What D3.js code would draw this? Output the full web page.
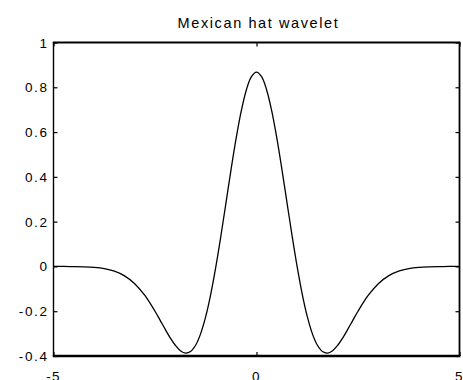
<!DOCTYPE html>
<html>
<head>
<meta charset="utf-8">
<script src="https://cdn.jsdelivr.net/npm/d3@7"></script>
<style>
  html, body { margin: 0; padding: 0; background: #fff; }
  svg { display: block; }
  text { font-family: "Liberation Sans", Arial, Helvetica, sans-serif; fill: #000; }
</style>
</head>
<body>
<svg id="chart" width="463" height="380"></svg>
<script>
// Sample points of the Mexican hat wavelet (denser near the centre)
const tValues = [-5, -4.75, -4.5, -4.25, -4, -3.75, -3.5, -3.25, -3, -2.75, -2.5, -2.375, -2.25, -2.125, -2, -1.875, -1.75, -1.625,
  -1.5, -1.375, -1.25, -1.125, -1, -0.875, -0.75, -0.625, -0.5, -0.375, -0.25, -0.125,
  0, 0.125, 0.25, 0.375, 0.5, 0.625, 0.75, 0.875, 1, 1.125, 1.25, 1.375, 1.5,
  1.625, 1.75, 1.875, 2, 2.125, 2.25, 2.375, 2.5, 2.75, 3, 3.25, 3.5, 3.75, 4, 4.25, 4.5, 4.75, 5];
const psiValues = [-0.0001, -0.0002, -0.0007, -0.0018, -0.0044, -0.0100, -0.0213, -0.0422, -0.0771, -0.1297, -0.2001, -0.2398, -0.2803, -0.3189, -0.3521, -0.3762, -0.3869, -0.3800,
  -0.3520, -0.3001, -0.2234, -0.1224, 0, 0.1386, 0.2864, 0.4347, 0.5740, 0.6947, 0.7881, 0.8471,
  0.8673, 0.8471, 0.7881, 0.6947, 0.5740, 0.4347, 0.2864, 0.1386, 0, -0.1224, -0.2234, -0.3001, -0.3520,
  -0.3800, -0.3869, -0.3762, -0.3521, -0.3189, -0.2803, -0.2398, -0.2001, -0.1297, -0.0771, -0.0422, -0.0213, -0.0100, -0.0044, -0.0018, -0.0007, -0.0002, -0.0001];

const xTicks = [-5, 0, 5];
const xTickLabels = ["-5", "0", "5"];
const yTicks = [-0.4, -0.2, 0, 0.2, 0.4, 0.6, 0.8, 1];
const yTickLabels = ["-0.4", "-0.2", "0", "0.2", "0.4", "0.6", "0.8", "1"];
const title = "Mexican hat wavelet";

const svg = d3.select("#chart");
const plotLeft = 53.5, plotRight = 459.5, plotTop = 42.5, plotBottom = 356;

const x = d3.scaleLinear().domain([-5, 5]).range([plotLeft, plotRight]);
const y = d3.scaleLinear().domain([-0.4, 1]).range([plotBottom, plotTop]);

// Curve
const line = d3.line()
  .x((d, i) => x(tValues[i]))
  .y(d => y(d))
  .curve(d3.curveCatmullRom.alpha(0.5));

svg.append("path")
  .datum(psiValues)
  .attr("d", line)
  .attr("fill", "none")
  .attr("stroke", "#000")
  .attr("stroke-width", 1.3);

// Axes with inward ticks
const tickLen = 4;
const fmtY = (d) => yTickLabels[yTicks.indexOf(d)];
const fmtX = (d) => xTickLabels[xTicks.indexOf(d)];

const gLeft = svg.append("g").attr("transform", `translate(${plotLeft},0)`)
  .call(d3.axisRight(y).tickValues(yTicks).tickSize(tickLen).tickFormat(""));
const gRight = svg.append("g").attr("transform", `translate(${plotRight},0)`)
  .call(d3.axisLeft(y).tickValues(yTicks).tickSize(tickLen).tickFormat(""));
const gBottom = svg.append("g").attr("transform", `translate(0,${plotBottom})`)
  .call(d3.axisTop(x).tickValues(xTicks).tickSize(tickLen).tickFormat(""));
const gTop = svg.append("g").attr("transform", `translate(0,${plotTop})`)
  .call(d3.axisBottom(x).tickValues(xTicks).tickSize(tickLen).tickFormat(""));

[gLeft, gRight, gBottom, gTop].forEach(g => {
  g.select(".domain").remove();
  g.selectAll(".tick line").attr("stroke", "#000").attr("stroke-width", 1.2);
});

// Frame
svg.append("line").attr("x1", plotLeft).attr("x2", plotLeft).attr("y1", plotTop).attr("y2", plotBottom)
  .attr("stroke", "#000").attr("stroke-width", 1.4);
svg.append("line").attr("x1", plotRight).attr("x2", plotRight).attr("y1", plotTop).attr("y2", plotBottom)
  .attr("stroke", "#000").attr("stroke-width", 1.8);
svg.append("line").attr("x1", plotLeft - 0.7).attr("x2", plotRight + 0.9).attr("y1", plotTop).attr("y2", plotTop)
  .attr("stroke", "#000").attr("stroke-width", 2);
svg.append("line").attr("x1", plotLeft - 0.7).attr("x2", plotRight + 0.9).attr("y1", plotBottom).attr("y2", plotBottom)
  .attr("stroke", "#000").attr("stroke-width", 2.4);

// Y tick labels
svg.append("g").selectAll("text")
  .data(yTicks)
  .join("text")
  .attr("x", plotLeft - 5)
  .attr("y", d => y(d) + 5)
  .attr("text-anchor", "end")
  .attr("font-size", 13.5)
  .attr("letter-spacing", "1.6px")
  .text(fmtY);

// X tick labels, sitting at the lower edge of the canvas
svg.append("g").selectAll("text")
  .data(xTicks)
  .join("text")
  .attr("x", d => x(d))
  .attr("y", plotBottom + 25)
  .attr("text-anchor", "middle")
  .attr("font-size", 13.5)
  .attr("letter-spacing", "1.3px")
  .text(fmtX);

// Title
svg.append("text")
  .attr("x", (plotLeft + plotRight) / 2 + 2)
  .attr("y", 28)
  .attr("text-anchor", "middle")
  .attr("font-size", 14.5)
  .attr("letter-spacing", "1.6px")
  .text(title);
</script>
</body>
</html>
